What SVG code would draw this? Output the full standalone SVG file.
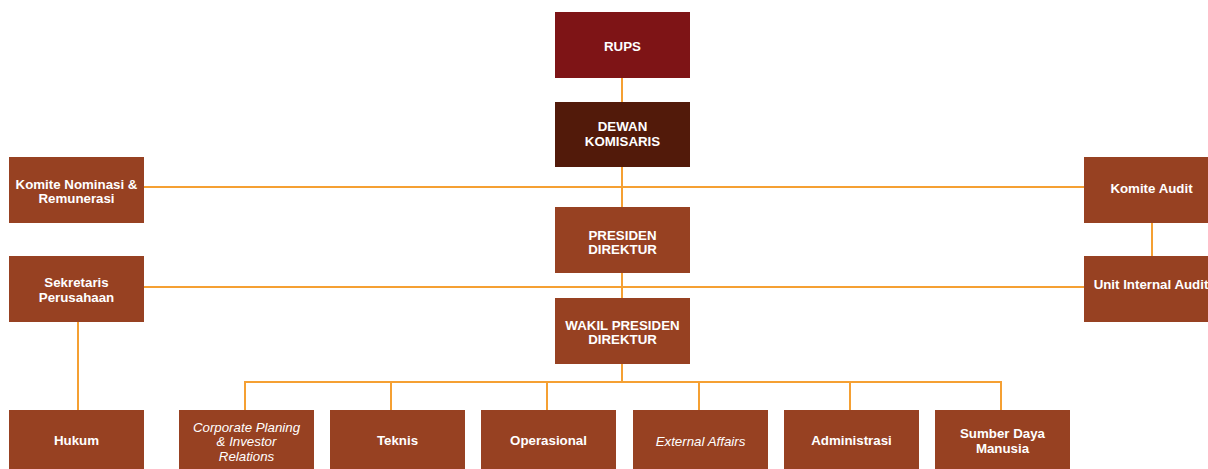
<svg xmlns="http://www.w3.org/2000/svg" width="1208" height="469" viewBox="0 0 1208 469">
<style>
.box{fill:#974122}
.t{font-family:"Liberation Sans",Arial,sans-serif;font-size:13.3px;font-weight:bold;fill:#ffffff;text-anchor:middle}
.i{font-family:"Liberation Sans",Arial,sans-serif;font-size:13.3px;font-style:italic;fill:#ffffff;text-anchor:middle}
.ln{stroke:#F5A033;stroke-width:2;fill:none}
</style>
<rect width="1208" height="469" fill="#ffffff"/>
<g id="connectors">
<line class="ln" x1="622" y1="78" x2="622" y2="382"/>
<line class="ln" x1="144" y1="187" x2="1084" y2="187"/>
<line class="ln" x1="144" y1="287" x2="1084" y2="287"/>
<line class="ln" x1="1152" y1="223" x2="1152" y2="256"/>
<line class="ln" x1="78" y1="322" x2="78" y2="410"/>
<polyline class="ln" points="245,410 245,382 1001,382 1001,410"/>
<line class="ln" x1="391" y1="382" x2="391" y2="410"/>
<line class="ln" x1="547" y1="382" x2="547" y2="410"/>
<line class="ln" x1="699" y1="382" x2="699" y2="410"/>
<line class="ln" x1="850" y1="382" x2="850" y2="410"/>
</g>
<g id="rups"><rect x="555" y="12" width="135" height="66" fill="#7E1416"/><text class="t" x="622.5" y="51">RUPS</text></g>
<g id="dewan-komisaris"><rect x="555" y="102" width="135" height="65" fill="#521A0A"/><text class="t" x="622.5" y="130.5">DEWAN</text><text class="t" x="622.5" y="145.5">KOMISARIS</text></g>
<g id="presiden-direktur"><rect class="box" x="555" y="207" width="135" height="66"/><text class="t" x="622.5" y="239.5">PRESIDEN</text><text class="t" x="622.5" y="253.5">DIREKTUR</text></g>
<g id="wakil-presiden-direktur"><rect class="box" x="555" y="298" width="135" height="66"/><text class="t" x="622.5" y="330">WAKIL PRESIDEN</text><text class="t" x="622.5" y="344">DIREKTUR</text></g>
<g id="komite-nominasi"><rect class="box" x="9" y="157" width="135" height="66"/><text class="t" x="76.5" y="188.7">Komite Nominasi &amp;</text><text class="t" x="76.5" y="203.3">Remunerasi</text></g>
<g id="sekretaris-perusahaan"><rect class="box" x="9" y="256" width="135" height="66"/><text class="t" x="76.5" y="287.3">Sekretaris</text><text class="t" x="76.5" y="301.7">Perusahaan</text></g>
<g id="komite-audit"><rect class="box" x="1084" y="157" width="135" height="66"/><text class="t" x="1151.5" y="193.3">Komite Audit</text></g>
<g id="unit-internal-audit"><rect class="box" x="1084" y="256" width="135" height="66"/><text class="t" x="1151" y="289.3">Unit Internal Audit</text></g>
<g id="hukum"><rect class="box" x="9" y="410" width="135" height="66"/><text class="t" x="76.5" y="445">Hukum</text></g>
<g id="corporate-planing"><rect class="box" x="179" y="410" width="135" height="66"/><text class="i" x="246.5" y="431.7">Corporate Planing</text><text class="i" x="246.5" y="446">&amp; Investor</text><text class="i" x="246.5" y="460.7">Relations</text></g>
<g id="teknis"><rect class="box" x="330" y="410" width="135" height="66"/><text class="t" x="397.5" y="445">Teknis</text></g>
<g id="operasional"><rect class="box" x="481" y="410" width="135" height="66"/><text class="t" x="548.5" y="445">Operasional</text></g>
<g id="external-affairs"><rect class="box" x="633" y="410" width="135" height="66"/><text class="i" x="700.5" y="446">External Affairs</text></g>
<g id="administrasi"><rect class="box" x="784" y="410" width="135" height="66"/><text class="t" x="851.5" y="445">Administrasi</text></g>
<g id="sumber-daya-manusia"><rect class="box" x="935" y="410" width="135" height="66"/><text class="t" x="1002.5" y="438.3">Sumber Daya</text><text class="t" x="1002.5" y="452.7">Manusia</text></g>
</svg>
